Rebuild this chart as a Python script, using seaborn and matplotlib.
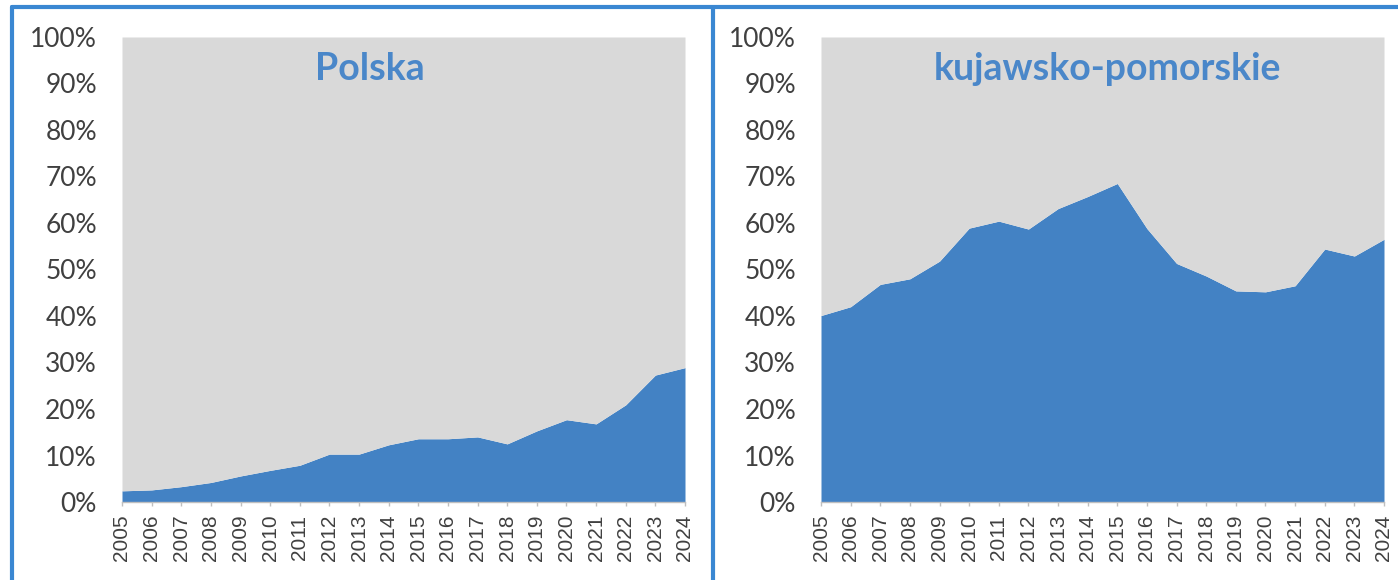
import matplotlib
matplotlib.use("Agg")
import matplotlib.pyplot as plt
from matplotlib.lines import Line2D
from matplotlib.ticker import FuncFormatter
import seaborn as sns

# data (share in %)
years = list(range(2005, 2025))
polska = [2.4, 2.6, 3.3, 4.2, 5.6, 6.8, 7.9, 10.3, 10.3, 12.3,
          13.6, 13.6, 14.0, 12.5, 15.3, 17.7, 16.8, 20.9, 27.3, 28.9]
kujawsko = [40.1, 42.0, 46.8, 48.0, 51.8, 58.9, 60.4, 58.7, 63.1, 65.7,
            68.5, 58.8, 51.3, 48.6, 45.4, 45.2, 46.5, 54.4, 52.9, 56.5]
titles = ["Polska", "kujawsko-pomorskie"]
y_ticks = list(range(0, 101, 10))

BLUE = "#4382C4"
GREY = "#D9D9D9"
FRAME = "#3A87D2"
TITLE = "#4A87C9"
TEXT = "#404040"

sns.set_theme(style="white")
plt.rcParams["font.family"] = ["Lato", "DejaVu Sans"]

W, H = 1398, 580
fig = plt.figure(figsize=(W / 100, H / 100), dpi=100)

panels = [
    (polska, titles[0], 122, 370),
    (kujawsko, titles[1], 821, 1107),
]

for values, title, left_px, title_x in panels:
    ax = fig.add_axes([left_px / W, 1 - 502 / H, 563 / W, 465 / H])
    rest = [100 - v for v in values]
    ax.stackplot(years, values, rest, colors=[BLUE, GREY], linewidth=0)
    ax.set_xlim(years[0], years[-1])
    ax.set_ylim(0, 100)
    ax.set_xticks(years)
    ax.set_xticklabels([str(y) for y in years], rotation=90,
                       fontsize=15, color=TEXT, family="Liberation Sans")
    ax.set_yticks(y_ticks)
    ax.yaxis.set_major_formatter(FuncFormatter(lambda v, p: f"{v:.0f}%"))
    ax.tick_params(axis="y", length=0, pad=18, labelsize=19, labelcolor=TEXT)
    ax.tick_params(axis="x", length=3, width=1, color="#BFBFBF", pad=6,
                   bottom=True)
    sns.despine(ax=ax, left=True, right=True, top=True)
    ax.spines["bottom"].set_color("#BFBFBF")
    ax.spines["bottom"].set_linewidth(1)
    ax.grid(False)
    fig.text(title_x / W, 1 - 69 / H, title, ha="center", va="center",
             fontsize=27, fontweight="bold", color=TITLE)

# blue frame around the panels
lw = 3
fig.add_artist(Line2D([11.5 / W, 1], [1 - 7 / H, 1 - 7 / H],
                      color=FRAME, linewidth=lw, transform=fig.transFigure))
fig.add_artist(Line2D([11.5 / W, 11.5 / W], [0, 1 - 7 / H],
                      color=FRAME, linewidth=lw, transform=fig.transFigure))
fig.add_artist(Line2D([713 / W, 713 / W], [0, 1 - 7 / H],
                      color=FRAME, linewidth=lw, transform=fig.transFigure))

fig.savefig("out.png", dpi=100)
